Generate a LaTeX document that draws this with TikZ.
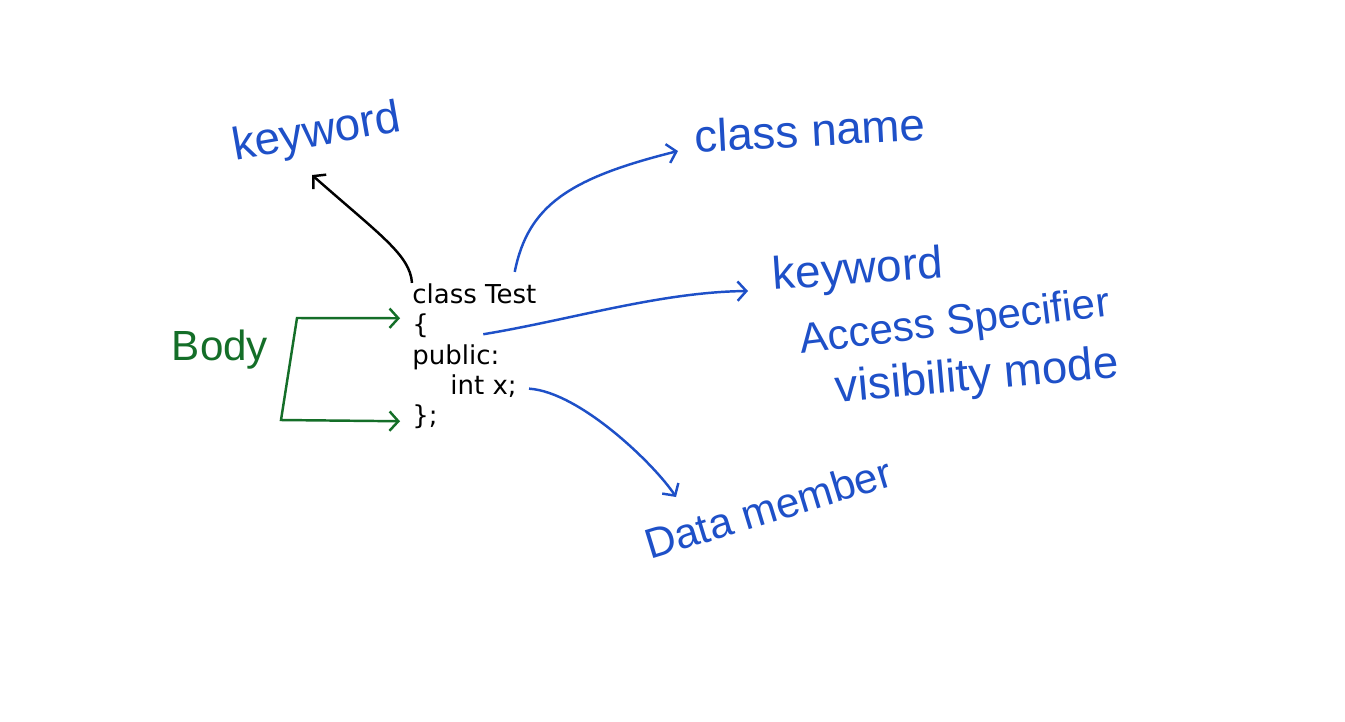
\documentclass[tikz,border=0pt]{standalone}
\usepackage{fontspec}
\setsansfont{DejaVu Sans}
\newfontfamily\handfont{Liberation Sans}
\usetikzlibrary{arrows.meta, positioning}
\definecolor{penblue}{RGB}{30,80,200}
\definecolor{pengreen}{RGB}{20,110,40}
\tikzstyle{pen}=[line width=1.4pt, >={Straight Barb[length=5pt,width=11pt]}]
\tikzstyle{code}=[inner sep=0pt, anchor=base west, font=\sffamily\fontsize{14.8}{17}\selectfont]
\tikzstyle{hand}=[inner sep=0pt, text=penblue, font=\handfont\fontsize{26}{30}\selectfont]

\begin{document}
\begin{tikzpicture}[x=0.02cm, y=-0.02cm]
  \useasboundingbox[fill=white] (0,0) rectangle (1345,721);
  \node[code] (cls) at (412,303) {class Test};
  \node[code] (lbr) at (412,333) {\{};
  \node[code] (pub) at (412,364) {public:};
  \node[code] (intx) at (450,394) {int x;};
  \node[code] (rbr) at (412,424) {\};};
  \node[hand, rotate=10] (kwa) at (317,134) {keyword};
  \node[hand, rotate=3] (cname) at (810,130) {class name};
  \node[hand, rotate=4] (kwb) at (858,272) {keyword};
  \node[hand, rotate=7, font=\handfont\fontsize{24}{28}\selectfont] (acc) at (955,324) {Access Specifier};
  \node[hand, rotate=5] (vis) at (977,378) {visibility mode};
  \node[hand, rotate=17, font=\handfont\fontsize{24}{28}\selectfont] (dmem) at (768,508) {Data member};
  \node[hand, text=pengreen, font=\handfont\fontsize{24}{28}\selectfont] (body) at (220,350) {Body};
  \coordinate (kwatip) at (312,175);
  \coordinate (cnametip) at (678,151);
  \coordinate (kwbtip) at (748,291);
  \coordinate (dmemtip) at (676,497);
  \draw[pen, ->] (cls.north west) .. controls (410,255) and (380,235) .. (kwatip);
  \draw[pen, ->, penblue] ([shift={(-22,-11)}]cls.north east) .. controls (528,205) and (570,178) .. (cnametip);
  \draw[pen, ->, penblue] ([shift={(54,9)}]lbr.east) .. controls (570,320) and (660,292) .. (kwbtip);
  \draw[pen, ->, penblue] ([shift={(12,3)}]intx.east) .. controls (580,392) and (655,465) .. (dmemtip);
  \draw[pen, <->, pengreen] ([shift={(-12,-7)}]lbr.west) -- (297,318) -- (281,420) -- ([shift={(-12,5)}]rbr.west);
\end{tikzpicture}
\end{document}
